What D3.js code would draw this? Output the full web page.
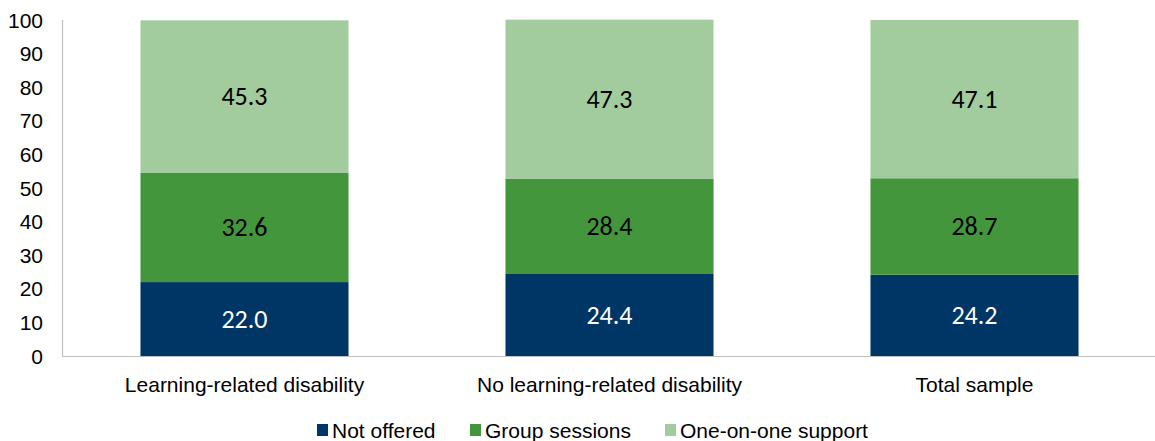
<!DOCTYPE html>
<html><head><meta charset="utf-8">
<script src="https://cdn.jsdelivr.net/npm/d3@7"></script>
<style>body{margin:0;background:#fff}svg{display:block}</style>
</head><body>
<svg id="c" width="1155" height="441"></svg>
<script>
const categories = ["Learning-related disability","No learning-related disability","Total sample"];
const seriesNames = ["Not offered","Group sessions","One-on-one support"];
const notOffered = [22.0, 24.4, 24.2];
const groupSessions = [32.6, 28.4, 28.7];
const oneOnOne = [45.3, 47.3, 47.1];
const yTicks = [0,10,20,30,40,50,60,70,80,90,100];
const colors = ["#003665","#43963c","#a2cc9e"];
const labelColors = ["#ffffff","#000000","#000000"];

const svg = d3.select("#c");
const m = {l:62, r:-2, t:20, b:85};
const W = 1155, H = 441;
const x = d3.scaleBand().domain(categories).range([m.l, W - m.r]).paddingInner(0.43).paddingOuter(0.215);
const y = d3.scaleLinear().domain([0,100]).range([356, 20]);

const rows = categories.map((c,i)=>({cat:c, "Not offered":notOffered[i], "Group sessions":groupSessions[i], "One-on-one support":oneOnOne[i]}));
const stack = d3.stack().keys(seriesNames)(rows);

const g = svg.append("g");
stack.forEach((s,si)=>{
  g.selectAll(null).data(s).enter().append("rect")
    .attr("x", d=>x(d.data.cat)).attr("width", x.bandwidth())
    .attr("y", d=>y(d[1])).attr("height", d=>y(d[0])-y(d[1]))
    .attr("fill", colors[si]);
  g.selectAll(null).data(s).enter().append("text")
    .attr("x", d=>x(d.data.cat)+x.bandwidth()/2)
    .attr("y", d=>(y(d[0])+y(d[1]))/2)
    .attr("dy","0.33em").attr("text-anchor","middle")
    .attr("font-family","Carlito, 'Open Sans', sans-serif").attr("font-size","26px")
    .attr("fill", labelColors[si])
    .text(d=>(d[1]-d[0]).toFixed(1));
});

// axes lines
svg.append("line").attr("x1",62.5).attr("x2",62.5).attr("y1",20).attr("y2",356.5).attr("stroke","#bfbfbf").attr("stroke-width",1.2);
svg.append("line").attr("x1",62).attr("x2",1155).attr("y1",356.5).attr("y2",356.5).attr("stroke","#bfbfbf").attr("stroke-width",1.2);

const font = "'Liberation Sans', Arial, sans-serif";
svg.selectAll(null).data(yTicks).enter().append("text")
  .attr("x",43).attr("y",d=>y(d)).attr("dy","0.36em").attr("text-anchor","end")
  .attr("font-family",font).attr("font-size","21px").attr("fill","#000")
  .text(d=>d);

svg.selectAll(null).data(categories).enter().append("text")
  .attr("x",d=>x(d)+x.bandwidth()/2).attr("y",384).attr("dy","0.36em").attr("text-anchor","middle")
  .attr("font-family",font).attr("font-size","21px").attr("fill","#000")
  .text(d=>d);

// legend
const legX = [317, 470, 665];
const lg = svg.selectAll(null).data(seriesNames).enter().append("g")
  .attr("transform",(d,i)=>`translate(${legX[i]},430)`);
lg.append("rect").attr("x",0).attr("y",-6).attr("width",11).attr("height",12).attr("fill",(d,i)=>colors[i]);
lg.append("text").attr("x",15).attr("y",0).attr("dy","0.36em")
  .attr("font-family",font).attr("font-size","21px").attr("fill","#000")
  .text(d=>d);
</script>
</body></html>
